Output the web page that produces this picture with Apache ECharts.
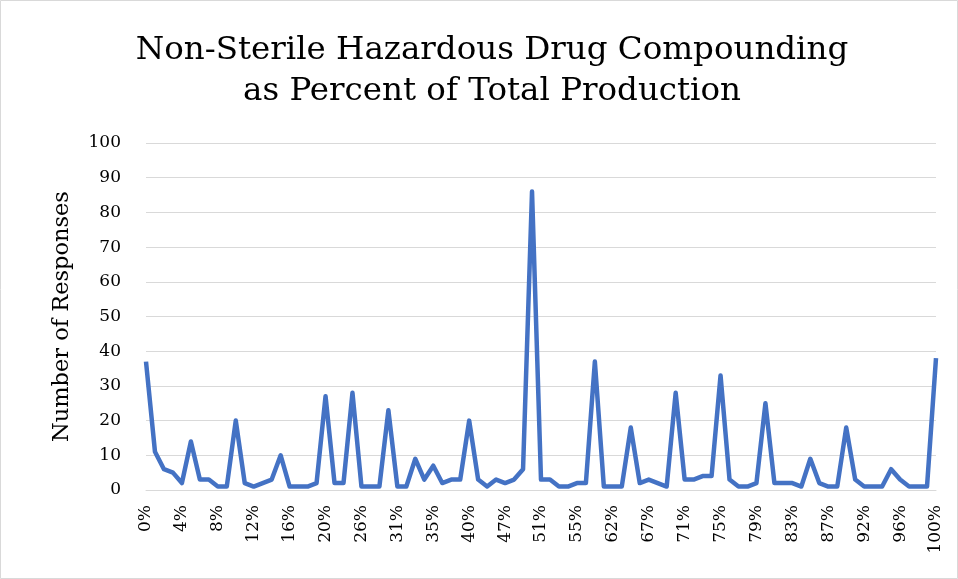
<!DOCTYPE html>
<html>
<head>
<meta charset="utf-8">
<script src="https://cdn.jsdelivr.net/npm/echarts@6/dist/echarts.min.js"></script>
<style>
  html, body { margin: 0; padding: 0; background: #fff; }
  #chart { width: 958px; height: 579px; }
</style>
</head>
<body>
<div id="chart"></div>
<script>
// Share of non-sterile hazardous compounding (answer buckets)
const percentCategories = [
  '0%','1%','2%','3%','4%','5%','6%','7%','8%','9%',
  '10%','11%','12%','13%','14%','15%','16%','17%','18%','19%',
  '20%','21%','22%','25%','26%','27%','28%','30%','31%','32%',
  '33%','34%','35%','36%','37%','38%','40%','42%','44%','45%',
  '47%','48%','49%','50%','51%','52%','53%','54%','55%','58%',
  '60%','61%','62%','64%','65%','66%','67%','68%','69%','70%',
  '71%','72%','73%','74%','75%','76%','77%','78%','79%','80%',
  '81%','82%','83%','84%','85%','86%','87%','89%','90%','91%',
  '92%','93%','94%','95%','96%','97%','98%','99%','100%'
];

// Number of responses per bucket
const responses = [
  37, 11, 6, 5, 2, 14, 3, 3, 1, 1,
  20, 2, 1, 2, 3, 10, 1, 1, 1, 2,
  27, 2, 2, 28, 1, 1, 1, 23, 1, 1,
  9, 3, 7, 2, 3, 3, 20, 3, 1, 3,
  2, 3, 6, 86, 3, 3, 1, 1, 2, 2,
  37, 1, 1, 1, 18, 2, 3, 2, 1, 28,
  3, 3, 4, 4, 33, 3, 1, 1, 2, 25,
  2, 2, 2, 1, 9, 2, 1, 1, 18, 3,
  1, 1, 1, 6, 3, 1, 1, 1, 38
];

const titleLines = ['Non-Sterile Hazardous Drug Compounding', 'as Percent of Total Production'];
const yAxisName = 'Number of Responses';

const serif = 'Georgia, "DejaVu Serif", serif';

const chart = echarts.init(document.getElementById('chart'));
chart.setOption({
  backgroundColor: '#ffffff',
  animation: false,
  title: {
    text: titleLines.join('\n'),
    left: 487,
    textAlign: 'center',
    top: 25,
    textStyle: {
      fontFamily: serif,
      fontWeight: 'normal',
      fontSize: 32.5,
      lineHeight: 41,
      color: '#000000'
    }
  },
  graphic: [{
    type: 'rect',
    shape: { x: 0.5, y: 0.5, width: 957, height: 578 },
    style: { fill: 'none', stroke: '#d9d9d9', lineWidth: 1 },
    silent: true
  }],
  grid: {
    left: 146,
    right: 22,
    top: 143,
    bottom: 89,
    containLabel: false
  },
  xAxis: {
    type: 'category',
    data: percentCategories,
    boundaryGap: false,
    axisLine: { show: true, lineStyle: { color: '#d9d9d9', width: 1 } },
    axisTick: { show: false },
    axisLabel: {
      interval: 3,
      rotate: 90,
      margin: 15,
      fontFamily: serif,
      fontSize: 17,
      color: '#000000'
    }
  },
  yAxis: {
    type: 'value',
    min: 0,
    max: 100,
    interval: 10,
    name: yAxisName,
    nameLocation: 'middle',
    nameGap: 72,
    nameRotate: 90,
    nameTextStyle: {
      fontFamily: serif,
      fontSize: 22.5,
      color: '#000000'
    },
    axisLine: { show: false },
    axisTick: { show: false },
    axisLabel: {
      margin: 25,
      fontFamily: serif,
      fontSize: 17,
      color: '#000000'
    },
    splitLine: { lineStyle: { color: '#d9d9d9', width: 1 } }
  },
  series: [{
    type: 'line',
    data: responses,
    showSymbol: false,
    symbol: 'none',
    lineStyle: { color: '#4472C4', width: 4.5, join: 'round' },
    itemStyle: { color: '#4472C4' }
  }]
});
</script>
</body>
</html>
